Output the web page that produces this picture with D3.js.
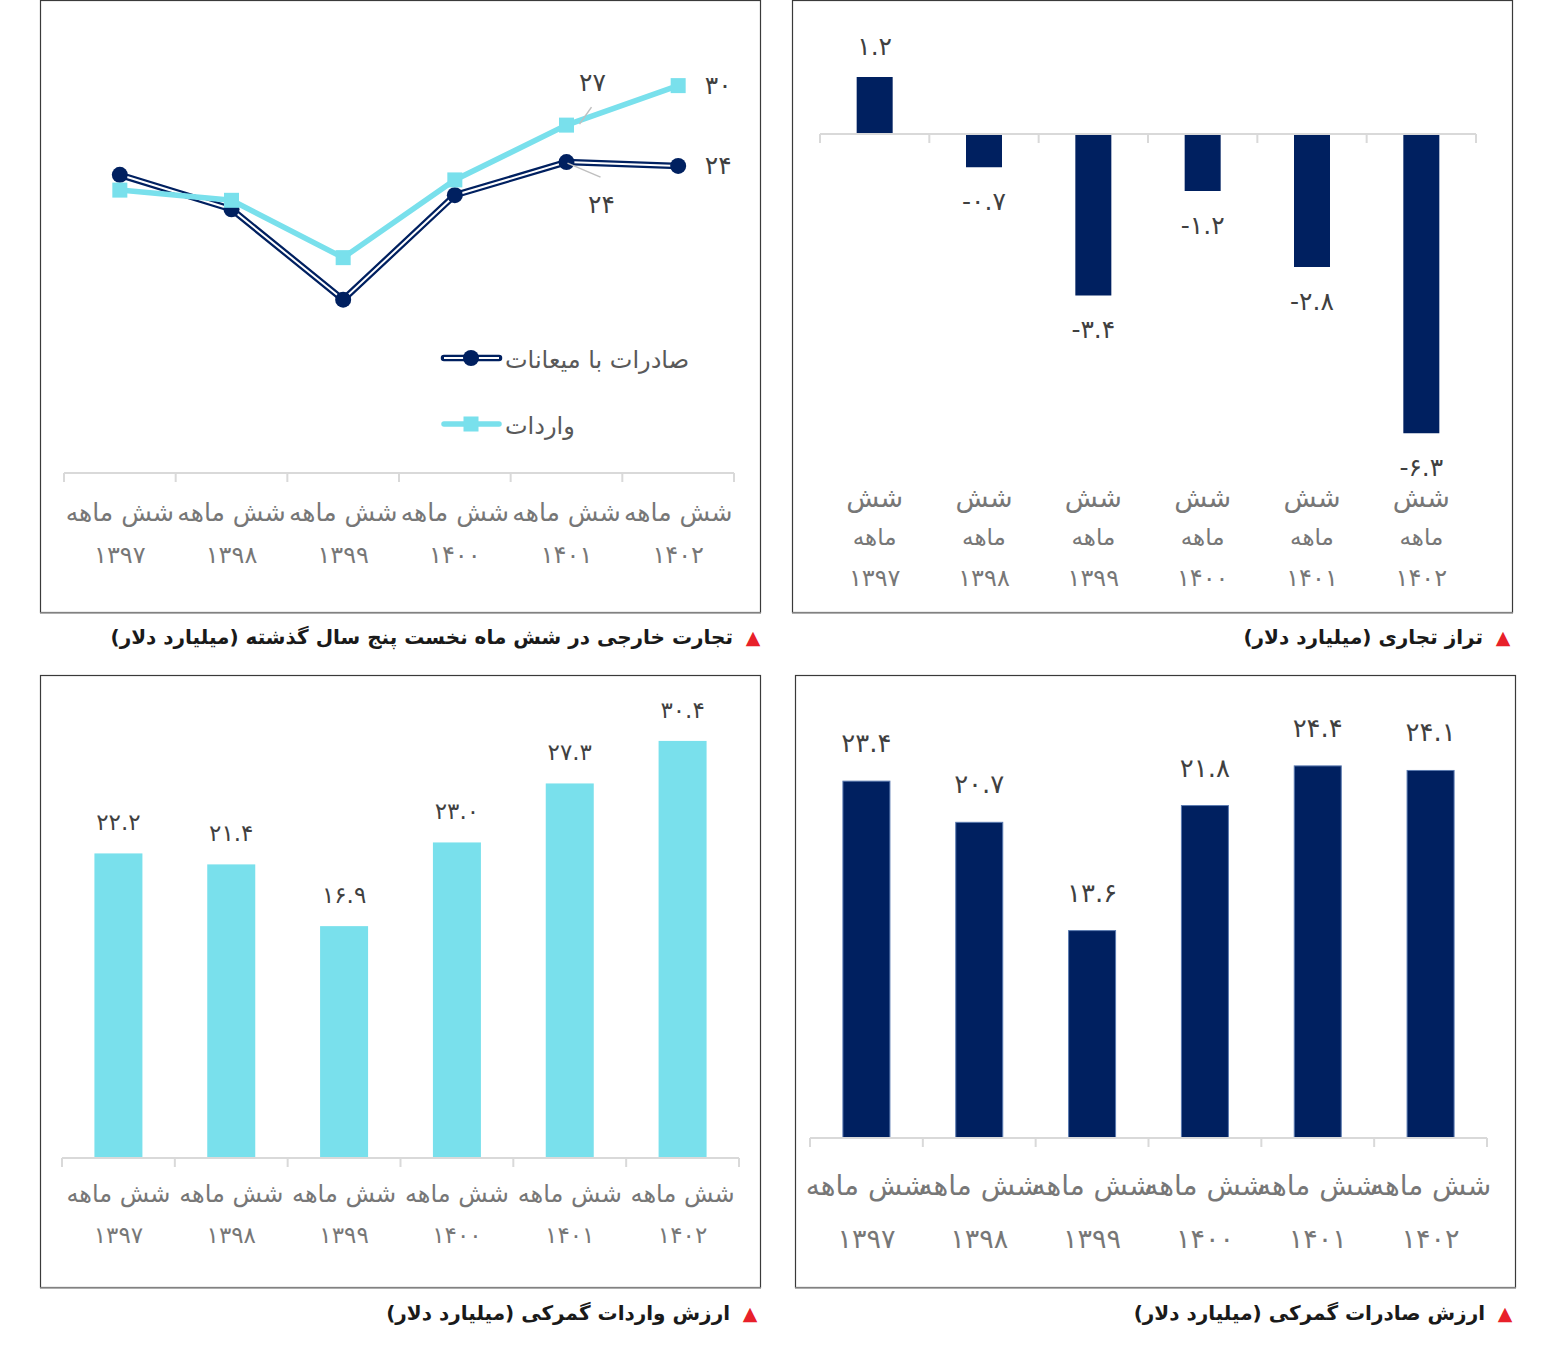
<!DOCTYPE html>
<html>
<head>
<meta charset="utf-8">
<script src="https://cdn.jsdelivr.net/npm/d3@7"></script>
<style>
html,body{margin:0;padding:0;background:#fff;}
svg{display:block;font-family:"DejaVu Sans","Noto Sans",sans-serif;}
</style>
</head>
<body>
<svg id="c" width="1554" height="1359"></svg>
<script>
// ---------- data ----------
const years = ["۱۳۹۷","۱۳۹۸","۱۳۹۹","۱۴۰۰","۱۴۰۱","۱۴۰۲"];
const periodWord1 = "شش";
const periodWord2 = "ماهه";
const periodLabel = "شش ماهه";
const tradeExports = [23.4, 20.7, 13.6, 21.8, 24.4, 24.1];
const tradeImports = [22.2, 21.4, 16.9, 23.0, 27.3, 30.4];
const tradeBalance = [1.2, -0.7, -3.4, -1.2, -2.8, -6.3];
const customsImports = [22.2, 21.4, 16.9, 23.0, 27.3, 30.4];
const customsExports = [23.4, 20.7, 13.6, 21.8, 24.4, 24.1];
const seriesNames = ["صادرات با میعانات", "واردات"];
const titles = [
  "تجارت خارجی در شش ماه نخست پنج سال گذشته (میلیارد دلار)",
  "تراز تجاری (میلیارد دلار)",
  "ارزش واردات گمرکی (میلیارد دلار)",
  "ارزش صادرات گمرکی (میلیارد دلار)"
];

// ---------- helpers ----------
const NAVY = "#002060", CYAN = "#79E0EC", LABEL = "#404040", TICK = "#777777", AXIS = "#d9d9d9";
const fa = s => String(s).replace(/[0-9]/g, d => "۰۱۲۳۴۵۶۷۸۹"[+d]);
const fmt1 = v => fa(d3.format(".1f")(v));
const svg = d3.select("#c");

function panel(x, y, w, h) {
  svg.append("rect").attr("x", x + 0.5).attr("y", y + 0.5).attr("width", w).attr("height", h)
    .attr("fill", "#fff").attr("stroke", "#3a3a3a").attr("stroke-width", 1.2);
  svg.append("line").attr("x1", x).attr("x2", x + w + 1).attr("y1", y + h + 1).attr("y2", y + h + 1)
    .attr("stroke", "#9a9a9a").attr("stroke-width", 1.5);
}
function title(xRight, y, text, size) {
  svg.append("text").attr("x", xRight + 20).attr("y", y).attr("text-anchor", "middle")
    .attr("dominant-baseline", "central").attr("fill", "#e8202a").style("font-size", "19px").text("▲");
  svg.append("text").attr("x", xRight).attr("y", y).attr("direction", "rtl").attr("text-anchor", "start")
    .attr("dominant-baseline", "central").attr("fill", "#1a1a1a").style("font-size", size + "px")
    .style("font-weight", "bold").text(text);
}
function catAxis(x, y0) {
  const g = svg.append("g");
  const [r0, r1] = x.range();
  g.append("line").attr("x1", r0).attr("x2", r1).attr("y1", y0).attr("y2", y0)
    .attr("stroke", AXIS).attr("stroke-width", 2);
  const edges = d3.range(years.length + 1).map(i => r0 + i * x.step());
  g.selectAll("line.t").data(edges).join("line").attr("class", "t")
    .attr("x1", d => d).attr("x2", d => d).attr("y1", y0).attr("y2", y0 + 9)
    .attr("stroke", AXIS).attr("stroke-width", 2);
  return g;
}
function textRow(data, xf, y, size, spacing, fmt) {
  svg.append("g").selectAll("text").data(data).join("text")
    .attr("x", xf).attr("y", y).attr("text-anchor", "middle").attr("dominant-baseline", "central")
    .attr("fill", TICK).style("font-size", size + "px").style("letter-spacing", spacing + "px")
    .text(fmt);
}

// ---------- Panel 1: line chart (top-left) ----------
panel(40, 0, 720, 612);
title(733, 637, titles[0], 20);
{
  const x = d3.scaleBand().domain(years).range([64, 734]);
  const y = d3.scaleLinear().domain([0, 35]).range([473, 27]);
  const cx = d => x(d) + x.bandwidth() / 2;
  catAxis(x, 473);
  textRow(years, cx, 512, 25, 0, () => periodLabel);
  textRow(years, cx, 555, 24, 6, d => d);

  const line = d3.line().x((d, i) => cx(years[i])).y(d => y(d));
  svg.append("path").datum(tradeExports).attr("d", line).attr("fill", "none").attr("stroke", NAVY).attr("stroke-width", 6.5);
  svg.append("path").datum(tradeExports).attr("d", line).attr("fill", "none").attr("stroke", "#fff").attr("stroke-width", 2);
  svg.append("g").selectAll("circle").data(tradeExports).join("circle")
    .attr("cx", (d, i) => cx(years[i])).attr("cy", d => y(d)).attr("r", 8).attr("fill", NAVY);
  svg.append("path").datum(tradeImports).attr("d", line).attr("fill", "none").attr("stroke", CYAN).attr("stroke-width", 5.5);
  svg.append("g").selectAll("rect").data(tradeImports).join("rect")
    .attr("x", (d, i) => cx(years[i]) - 7.5).attr("y", d => y(d) - 7.5).attr("width", 15).attr("height", 15).attr("fill", CYAN);

  const i4 = 4, i5 = 5;
  const lab = (xx, yy, t) => svg.append("text").attr("x", xx).attr("y", yy).attr("text-anchor", "middle")
    .attr("dominant-baseline", "central").attr("fill", LABEL).style("font-size", "25px")
    .style("letter-spacing", "3px").text(t);
  svg.append("line").attr("x1", cx(years[i4]) + 13).attr("y1", y(tradeImports[i4]) - 1)
    .attr("x2", cx(years[i4]) + 25).attr("y2", y(tradeImports[i4]) - 18).attr("stroke", "#bfbfbf").attr("stroke-width", 1.5);
  lab(cx(years[i4]) + 26, y(tradeImports[i4]) - 43, fa(Math.round(tradeImports[i4])));
  lab(cx(years[i5]) + 40, y(tradeImports[i5]) + 0, fa(Math.round(tradeImports[i5])));
  lab(cx(years[i5]) + 40, y(tradeExports[i5]) + 0, fa(Math.round(tradeExports[i5])));
  svg.append("line").attr("x1", cx(years[i4]) + 1).attr("y1", y(tradeExports[i4]) + 1)
    .attr("x2", cx(years[i4]) + 34).attr("y2", y(tradeExports[i4]) + 15).attr("stroke", "#bfbfbf").attr("stroke-width", 1.5);
  lab(cx(years[i4]) + 35, y(tradeExports[i4]) + 42, fa(Math.round(tradeExports[i4])));

  const lg = [{n: seriesNames[0], y: 358, t: "c"}, {n: seriesNames[1], y: 424, t: "s"}];
  lg.forEach(l => {
    if (l.t === "c") {
      svg.append("line").attr("x1", 444).attr("x2", 499).attr("y1", l.y).attr("y2", l.y).attr("stroke", NAVY).attr("stroke-width", 6.5).attr("stroke-linecap", "round");
      svg.append("line").attr("x1", 444).attr("x2", 499).attr("y1", l.y).attr("y2", l.y).attr("stroke", "#fff").attr("stroke-width", 2);
      svg.append("circle").attr("cx", 471).attr("cy", l.y).attr("r", 8).attr("fill", NAVY);
    } else {
      svg.append("line").attr("x1", 444).attr("x2", 499).attr("y1", l.y).attr("y2", l.y).attr("stroke", CYAN).attr("stroke-width", 5.5).attr("stroke-linecap", "round");
      svg.append("rect").attr("x", 463.5).attr("y", l.y - 7.5).attr("width", 15).attr("height", 15).attr("fill", CYAN);
    }
    svg.append("text").attr("x", 505).attr("y", l.y + 2).attr("direction", "rtl").attr("text-anchor", "end")
      .attr("dominant-baseline", "central").attr("fill", "#595959").style("font-size", "24px").text(l.n);
  });
}

// ---------- Panel 2: trade balance (top-right) ----------
panel(792, 0, 720, 612);
title(1483, 637, titles[1], 20);
{
  const x = d3.scaleBand().domain(years).range([820, 1476]);
  const y = d3.scaleLinear().domain([-7, 2]).range([134 + 7 * 47.5, 134 - 2 * 47.5]);
  const cx = d => x(d) + x.bandwidth() / 2;
  const bw = 36;
  svg.append("g").selectAll("rect").data(tradeBalance).join("rect")
    .attr("x", (d, i) => cx(years[i]) - bw / 2).attr("y", d => y(Math.max(0, d)))
    .attr("width", bw).attr("height", d => Math.abs(y(d) - y(0))).attr("fill", NAVY);
  catAxis(x, y(0));
  svg.append("g").selectAll("text").data(tradeBalance).join("text")
    .attr("x", (d, i) => cx(years[i])).attr("y", d => d >= 0 ? y(d) - 31 : y(d) + 34)
    .attr("text-anchor", "middle").attr("dominant-baseline", "central").attr("fill", LABEL)
    .style("font-size", "25px").style("letter-spacing", "4px")
    .text(d => (d < 0 ? "-" : "") + fmt1(Math.abs(d)));
  textRow(years, cx, 497, 27, 0, () => periodWord1);
  textRow(years, cx, 537, 23, 0, () => periodWord2);
  textRow(years, cx, 578, 24, 6, d => d);
}

// ---------- Panel 3: customs imports (bottom-left) ----------
panel(40, 675, 720, 612);
title(730, 1313, titles[2], 20);
{
  const x = d3.scaleBand().domain(years).range([62, 739]);
  const y = d3.scaleLinear().domain([0, 35]).range([1158, 1158 - 35 * 13.72]);
  const cx = d => x(d) + x.bandwidth() / 2;
  const bw = 48;
  svg.append("g").selectAll("rect").data(customsImports).join("rect")
    .attr("x", (d, i) => cx(years[i]) - bw / 2).attr("y", d => y(d))
    .attr("width", bw).attr("height", d => y(0) - y(d)).attr("fill", CYAN);
  catAxis(x, y(0));
  svg.append("g").selectAll("text").data(customsImports).join("text")
    .attr("x", (d, i) => cx(years[i])).attr("y", d => y(d) - 31)
    .attr("text-anchor", "middle").attr("dominant-baseline", "central").attr("fill", LABEL)
    .style("font-size", "23px").style("letter-spacing", "4px").text(d => fmt1(d));
  textRow(years, cx, 1194, 24, 0, () => periodLabel);
  textRow(years, cx, 1235, 23, 6, d => d);
}

// ---------- Panel 4: customs exports (bottom-right) ----------
panel(795, 675, 720, 612);
title(1485, 1313, titles[3], 20);
{
  const x = d3.scaleBand().domain(years).range([810, 1487]);
  const y = d3.scaleLinear().domain([0, 30]).range([1138, 1138 - 30 * 15.25]);
  const cx = d => x(d) + x.bandwidth() / 2;
  const bw = 47;
  svg.append("g").selectAll("rect").data(customsExports).join("rect")
    .attr("x", (d, i) => cx(years[i]) - bw / 2).attr("y", d => y(d))
    .attr("width", bw).attr("height", d => y(0) - y(d)).attr("fill", NAVY)
    .attr("stroke", "#5a7ab0").attr("stroke-width", 1);
  catAxis(x, y(0));
  svg.append("g").selectAll("text").data(customsExports).join("text")
    .attr("x", (d, i) => cx(years[i])).attr("y", d => y(d) - 38)
    .attr("text-anchor", "middle").attr("dominant-baseline", "central").attr("fill", LABEL)
    .style("font-size", "26px").style("letter-spacing", "4px").text(d => fmt1(d));
  textRow(years, cx, 1185, 28, 0, () => periodLabel);
  textRow(years, cx, 1238, 27, 8, d => d);
}
</script>
</body>
</html>
